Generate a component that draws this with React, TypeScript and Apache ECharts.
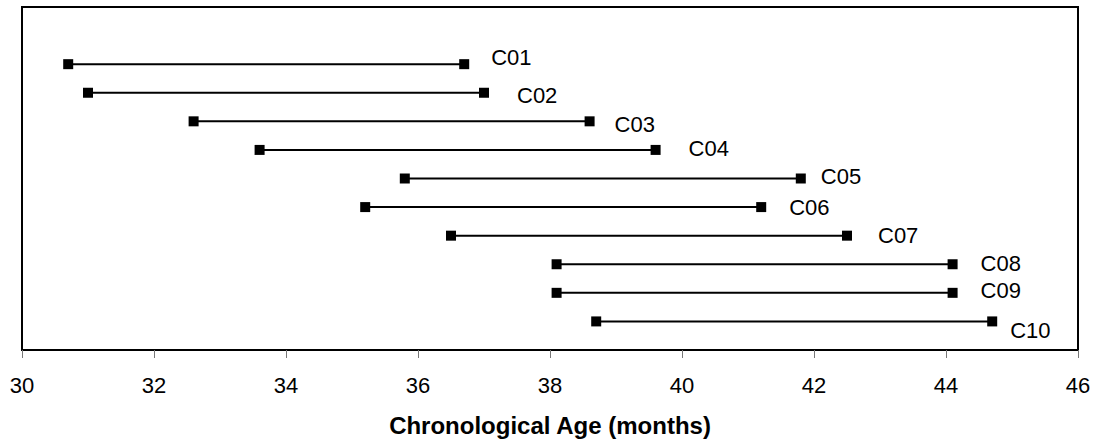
import React, { useEffect, useRef } from "react";
import * as echarts from "echarts";

const categories = ["C01", "C02", "C03", "C04", "C05", "C06", "C07", "C08", "C09", "C10"];
const startAge = [30.7, 31.0, 32.6, 33.6, 35.8, 35.2, 36.5, 38.1, 38.1, 38.7];
const endAge = [36.7, 37.0, 38.6, 39.6, 41.8, 41.2, 42.5, 44.1, 44.1, 44.7];
const rowPosition = [10, 9, 8, 7, 6, 5, 4, 3, 2, 1];
const xTicks = [30, 32, 34, 36, 38, 40, 42, 44, 46];

// label placement tweaks (pixels), styling only
const labelOffsets: [number, number][] = [
  [22, -7], [28, 3], [20, 3], [28, -1], [15, -2],
  [23, 0], [26, 0], [23, -1], [23, -2], [13, 9],
];

export default function App() {
  const ref = useRef<HTMLDivElement>(null);
  useEffect(() => {
    if (!ref.current) return;
    const chart = echarts.init(ref.current, null, { renderer: "svg" });
    const font = "'Liberation Sans', Arial, sans-serif";
    const series = categories.map((name, i) => ({
      type: "line",
      name,
      symbol: "rect",
      symbolSize: 10,
      lineStyle: { color: "#000", width: 2 },
      itemStyle: { color: "#000" },
      data: [
        { value: [startAge[i], rowPosition[i]] },
        {
          value: [endAge[i], rowPosition[i]],
          label: {
            show: true,
            formatter: name,
            position: "right",
            distance: 0,
            offset: labelOffsets[i],
            color: "#000",
            fontSize: 22,
            fontFamily: font,
          },
        },
      ],
    }));
    chart.setOption({
      animation: false,
      backgroundColor: "#fff",
      grid: {
        left: 22,
        right: 19,
        top: 7,
        bottom: 93,
        containLabel: false,
        outerBoundsMode: "none",
        show: true,
        borderColor: "#000",
        borderWidth: 2,
      },
      xAxis: {
        type: "value",
        min: xTicks[0],
        max: xTicks[xTicks.length - 1],
        interval: 2,
        name: "Chronological Age (months)",
        nameLocation: "middle",
        nameGap: 63,
        nameTextStyle: { color: "#000", fontSize: 24, fontWeight: "bold", fontFamily: font },
        axisLine: { show: true, lineStyle: { color: "#000", width: 2 } },
        axisTick: { show: true, length: 8, lineStyle: { color: "#777", width: 1 } },
        axisLabel: { color: "#000", fontSize: 22, fontFamily: font, margin: 24 },
        splitLine: { show: false },
      },
      yAxis: {
        type: "value",
        min: 0,
        max: 12,
        show: false,
        splitLine: { show: false },
      },
      series,
    });
    return () => chart.dispose();
  }, []);
  return (
    <div
      ref={ref}
      style={{ position: "fixed", left: 0, top: 0, width: 1097, height: 443, background: "#fff" }}
    />
  );
}
